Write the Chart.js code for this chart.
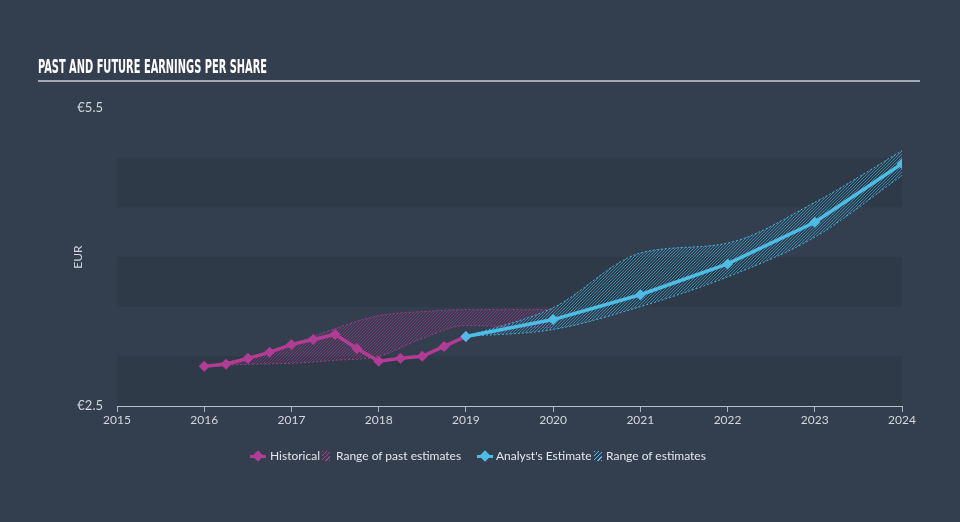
<!DOCTYPE html>
<html><head><meta charset="utf-8">
<script src="https://cdn.jsdelivr.net/npm/chart.js@4"></script>
<style>
html,body{margin:0;padding:0;background:#333f4f;width:960px;height:522px;overflow:hidden;}
#wrap{position:relative;width:960px;height:522px;}
#c{position:absolute;left:0;top:0;}
#title{position:absolute;left:38px;top:55px;font-family:"Liberation Sans Narrow","DejaVu Sans Condensed",sans-serif;font-weight:bold;font-size:20px;line-height:22px;color:#ffffff;transform-origin:0 0;white-space:nowrap;}
#rule{position:absolute;left:38px;top:80px;width:882px;height:2px;background:#a3aab4;}
.lg{position:absolute;top:449px;font-family:Lato,"Open Sans",sans-serif;font-size:12px;line-height:14px;color:#e3e7ec;white-space:nowrap;}
.mk{position:absolute;top:455px;height:3px;width:16px;}
.dm{position:absolute;width:8px;height:8px;transform:rotate(45deg);top:452px;}
.ht{position:absolute;top:451px;width:8px;height:10px;}
</style></head>
<body><div id="wrap">
<canvas id="c" width="960" height="522"></canvas>
<div id="title">PAST AND FUTURE EARNINGS PER SHARE</div>
<div id="rule"></div>
<div class="mk" style="left:250px;background:#b23b93"></div><div class="dm" style="left:254px;background:#b23b93"></div>
<div class="lg" style="left:270px">Historical</div>
<div class="ht" style="left:322px;background:repeating-linear-gradient(135deg,#b23b93 0 1px,transparent 1px 3px)"></div>
<div class="lg" style="left:336px">Range of past estimates</div>
<div class="mk" style="left:477px;background:#4dbde6"></div><div class="dm" style="left:481px;background:#4dbde6"></div>
<div class="lg" style="left:496px">Analyst's Estimate</div>
<div class="ht" style="left:594px;background:repeating-linear-gradient(135deg,#4dbde6 0 1px,transparent 1px 3px)"></div>
<div class="lg" style="left:606px">Range of estimates</div>
</div>
<script>
// ---- data ----
const histYears = [2016, 2016.25, 2016.5, 2016.75, 2017, 2017.25, 2017.5, 2017.75, 2018, 2018.25, 2018.5, 2018.75, 2019];
const histEPS   = [2.90, 2.92, 2.98, 3.04, 3.12, 3.17, 3.22, 3.08, 2.95, 2.98, 3.00, 3.10, 3.20];
const pastRangeYears = [2016, 2016.5, 2017, 2017.5, 2018, 2018.5, 2019, 2019.5, 2020];
const pastHigh = [2.90, 2.99, 3.12, 3.28, 3.41, 3.45, 3.47, 3.47, 3.47];
const pastLow  = [2.90, 2.92, 2.93, 2.96, 3.00, 3.18, 3.31, 3.30, 3.29];
const estYears = [2019, 2020, 2021, 2022, 2023, 2024];
const estEPS   = [3.20, 3.37, 3.62, 3.93, 4.35, 4.94];
const estHigh  = [3.20, 3.49, 4.04, 4.14, 4.55, 5.07];
const estLow   = [3.20, 3.27, 3.50, 3.80, 4.20, 4.82];
const xTickYears = [2015, 2016, 2017, 2018, 2019, 2020, 2021, 2022, 2023, 2024];
const yTickValues = [2.5, 5.5];
const bandRanges = [[2.5, 3.0], [3.5, 4.0], [4.5, 5.0]];

const MAG = '#b23b93', BLUE = '#4dbde6';
const pts = (xs, ys) => xs.map((x, i) => ({x, y: ys[i]}));

function hatch(color) {
  const s = 3, c = document.createElement('canvas');
  c.width = s; c.height = s;
  const g = c.getContext('2d');
  g.fillStyle = color;
  for (let i = 0; i < s; i++) g.fillRect(i, s - 1 - i, 1, 1);
  return g.createPattern(c, 'repeat');
}
const ctx = document.getElementById('c').getContext('2d');

// fit title width
const t = document.getElementById('title');
t.style.transform = 'scaleX(' + (229 / t.getBoundingClientRect().width) + ')';

const bandPlugin = {
  id: 'bands',
  beforeDraw(chart) {
    const {ctx, chartArea: {left, right}, scales: {y}} = chart;
    ctx.save();
    ctx.fillStyle = '#2e3a48';
    for (const [a, b] of bandRanges) {
      const y1 = y.getPixelForValue(b), y2 = y.getPixelForValue(a);
      ctx.fillRect(left, y1, right - left, y2 - y1);
    }
    ctx.restore();
  }
};

const rangeDs = (data, line, fillColor, fill, order) => ({
  data, borderColor: line, borderWidth: 1, borderDash: [2, 2],
  backgroundColor: hatch(fillColor), fill, pointRadius: 0,
  cubicInterpolationMode: 'monotone', order
});

new Chart(ctx, {
  type: 'line',
  data: {
    datasets: [
      {label: 'Historical', data: pts(histYears, histEPS), borderColor: MAG, backgroundColor: MAG,
       borderWidth: 3.5, pointStyle: 'rectRot', pointRadius: 5.5, pointBorderWidth: 0, tension: 0, order: 1, fill: false},
      {label: "Analyst's Estimate", data: pts(estYears, estEPS), borderColor: BLUE, backgroundColor: BLUE,
       borderWidth: 3.5, pointStyle: 'rectRot', pointRadius: 5.5, pointBorderWidth: 0, tension: 0, order: 0, fill: false},
      rangeDs(pts(pastRangeYears, pastHigh), 'rgba(178,59,147,0.85)', 'rgba(160,55,135,0.7)', '+1', 4),
      rangeDs(pts(pastRangeYears, pastLow), 'rgba(178,59,147,0.85)', 'rgba(160,55,135,0.7)', false, 4),
      rangeDs(pts(estYears, estHigh), 'rgba(77,189,230,0.9)', 'rgba(60,160,200,0.75)', '+1', 3),
      rangeDs(pts(estYears, estLow), 'rgba(77,189,230,0.9)', 'rgba(60,160,200,0.75)', false, 3)
    ]
  },
  options: {
    responsive: false, animation: false, events: [],
    layout: {padding: {left: 71, right: 58, top: 108, bottom: 0}},
    plugins: {legend: {display: false}, tooltip: {enabled: false}},
    scales: {
      x: {
        type: 'linear', min: 2015, max: 2024,
        afterBuildTicks: s => { s.ticks = xTickYears.map(v => ({value: v})); },
        afterFit: s => { s.height = 116; },
        grid: {display: true, drawOnChartArea: false, drawTicks: true, tickLength: 6, color: '#aab2bd'},
        border: {display: true, color: '#b8c0ca', width: 1},
        ticks: {color: '#d3d8de', font: {family: 'Lato', size: 12}, padding: 1, callback: v => String(v), maxRotation: 0}
      },
      y: {
        min: 2.5, max: 5.5,
        afterBuildTicks: s => { s.ticks = yTickValues.map(v => ({value: v})); },
        afterFit: s => { s.width = 46; },
        grid: {display: false, drawTicks: false},
        border: {display: false},
        title: {display: true, text: 'EUR', color: '#d3d8de', font: {family: 'Lato', size: 12}, padding: 0},
        ticks: {color: '#d3d8de', font: {family: 'Lato', size: 13}, padding: 14, callback: v => '€' + v.toFixed(1)}
      }
    }
  },
  plugins: [bandPlugin]
});
</script>
</body></html>
